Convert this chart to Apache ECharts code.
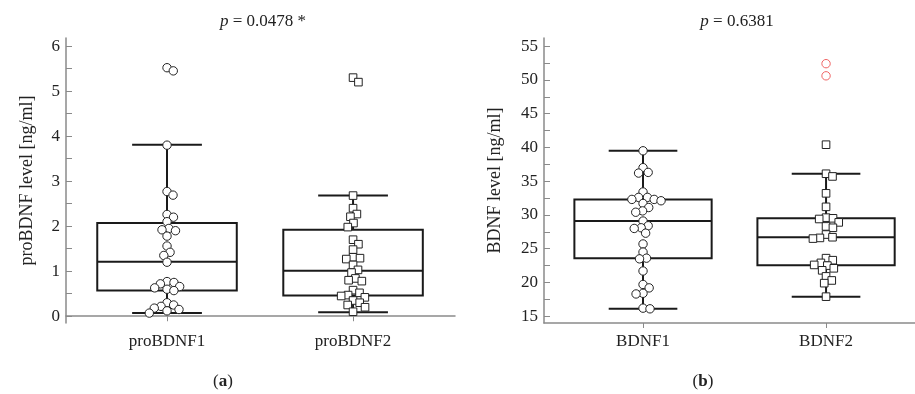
<!DOCTYPE html>
<html>
<head>
<meta charset="utf-8">
<script src="https://cdn.jsdelivr.net/npm/echarts@6/dist/echarts.min.js"></script>
<style>html,body{margin:0;padding:0;background:#fff}#c{width:915px;height:394px}</style>
</head>
<body>
<div id="c"></div>
<script>
// ---------- data ----------
const proCats = ['proBDNF1', 'proBDNF2'];
const bdnfCats = ['BDNF1', 'BDNF2'];
// box stats: [low whisker, Q1, median, Q3, high whisker]
const proBox1 = [0.07, 0.57, 1.21, 2.07, 3.81];
const proBox2 = [0.09, 0.46, 1.01, 1.92, 2.68];
const bdnfBox1 = [16.1, 23.6, 29.1, 32.3, 39.5];
const bdnfBox2 = [17.9, 22.55, 26.7, 29.5, 36.1];
// individual measurements
const proBDNF1 = [5.52, 5.45, 3.80, 2.77, 2.69, 2.26, 2.20, 2.10, 1.95, 1.92, 1.90, 1.78,
  1.56, 1.42, 1.35, 1.20, 0.77, 0.75, 0.72, 0.66, 0.63, 0.60, 0.57,
  0.30, 0.25, 0.22, 0.18, 0.15, 0.12, 0.07];
const proBDNF2 = [5.30, 5.20, 2.68, 2.40, 2.27, 2.21, 2.07, 1.98, 1.70, 1.60, 1.48,
  1.31, 1.29, 1.27, 1.14, 1.03, 0.97, 0.84, 0.80, 0.78,
  0.58, 0.52, 0.47, 0.45, 0.42, 0.35, 0.30, 0.25, 0.20, 0.10];
const BDNF1 = [39.5, 37.0, 36.3, 36.2, 33.4, 32.6, 32.6, 32.3, 32.3, 32.1, 31.7, 31.1,
  30.6, 30.4, 29.1, 28.4, 28.1, 28.0, 27.3, 25.7, 24.5, 23.6, 23.5,
  21.7, 19.7, 19.2, 18.4, 18.3, 16.2, 16.1];
const BDNF2 = [40.4, 36.1, 35.7, 33.2, 31.2, 29.6, 29.5, 29.4, 28.9, 28.3, 28.1, 27.1,
  26.7, 26.6, 26.5, 23.6, 23.3, 22.9, 22.6, 22.5, 22.1, 21.8, 20.9, 20.3, 19.9, 17.9];
const BDNF2far = [52.4, 50.6];
const catPos = [1, 2];
const proTicks = [0, 1, 2, 3, 4, 5, 6];
const proMinor = [0.5, 1.5, 2.5, 3.5, 4.5, 5.5];
const bdnfTicks = [15, 20, 25, 30, 35, 40, 45, 50, 55];
const bdnfMinor = [17.5, 22.5, 27.5, 32.5, 37.5, 42.5, 47.5, 52.5];
const titles = ['= 0.0478 *', '= 0.6381'];
const panelLabels = ['a', 'b'];

// ---------- chart ----------
const FONT = '"Liberation Serif", "DejaVu Serif", serif';
const AX = '#8a8a8a';
const TXT = '#222';
const chart = echarts.init(document.getElementById('c'));

function renderBox(params, api) {
  const x = api.value(0);
  const lo = api.coord([x, api.value(1)]);
  const q1 = api.coord([x, api.value(2)]);
  const md = api.coord([x, api.value(3)]);
  const q3 = api.coord([x, api.value(4)]);
  const hi = api.coord([x, api.value(5)]);
  const unit = api.size([1, 0])[0];
  const bw = unit * 0.75, cw = bw / 2, cx = lo[0];
  const st = { stroke: '#1a1a1a', lineWidth: 2, fill: null };
  return { type: 'group', children: [
    { type: 'line', shape: { x1: cx, y1: q3[1], x2: cx, y2: hi[1] }, style: st },
    { type: 'line', shape: { x1: cx, y1: q1[1], x2: cx, y2: lo[1] }, style: st },
    { type: 'line', shape: { x1: cx - cw / 2, y1: hi[1], x2: cx + cw / 2, y2: hi[1] }, style: st },
    { type: 'line', shape: { x1: cx - cw / 2, y1: lo[1], x2: cx + cw / 2, y2: lo[1] }, style: st },
    { type: 'rect', shape: { x: cx - bw / 2, y: q3[1], width: bw, height: q1[1] - q3[1] }, style: { stroke: '#1a1a1a', lineWidth: 2, fill: '#fff' } },
    { type: 'line', shape: { x1: cx - bw / 2, y1: md[1], x2: cx + bw / 2, y2: md[1] }, style: st }
  ] };
}

function swarm(ys, D) {
  const order = ys.map((y, i) => i).sort((a, b) => ys[a] - ys[b]);
  const xs = new Array(ys.length);
  const placed = [];
  for (const i of order) {
    const y = ys[i];
    const near = placed.filter(j => Math.abs(ys[j] - y) < D);
    const cands = [0];
    near.forEach(j => {
      const dx = Math.sqrt(D * D - (ys[j] - y) * (ys[j] - y));
      cands.push(xs[j] + dx, xs[j] - dx);
    });
    cands.sort((a, b) => (Math.abs(a) - Math.abs(b)) || (b - a));
    for (const c of cands) {
      if (near.every(j => (xs[j] - c) * (xs[j] - c) + (ys[j] - y) * (ys[j] - y) >= D * D - 0.01)) { xs[i] = c; break; }
    }
    placed.push(i);
  }
  return xs;
}

function makePoints(values, shape, color) {
  let cache = null;
  return function (params, api) {
    if (params.dataIndex === 0 || !cache) {
      const cat = api.value(0);
      const ys = values.map(v => api.coord([cat, v])[1]);
      cache = { xs: swarm(ys, 7.0) };
    }
    const p = api.coord([api.value(0), api.value(1)]);
    const x = p[0] + cache.xs[params.dataIndex];
    const y = p[1];
    const style = { stroke: color, lineWidth: 1, fill: '#fff' };
    if (shape === 'circle') return { type: 'circle', shape: { cx: x, cy: y, r: 4.2 }, style: style };
    return { type: 'rect', shape: { x: x - 3.8, y: y - 3.8, width: 7.6, height: 7.6 }, style: style };
  };
}

function pts(values, pos) { return values.map(v => [pos, v]); }

function xAxisCfg(cats, gi, min, max) {
  return {
    type: 'value', gridIndex: gi, min: min, max: max,
    axisLine: { show: true, lineStyle: { color: AX, width: 1.5 } },
    axisTick: { show: true, length: 5, customValues: catPos, lineStyle: { color: AX } },
    axisLabel: { color: TXT, fontFamily: FONT, fontSize: 17, margin: 10, customValues: catPos,
      formatter: v => cats[catPos.indexOf(v)] },
    splitLine: { show: false }
  };
}
function yAxisCfg(gi, min, max, ticks, minor, name, gap) {
  return {
    type: 'value', gridIndex: gi, min: min, max: max,
    name: name, nameLocation: 'middle', nameGap: gap,
    nameTextStyle: { color: TXT, fontFamily: FONT, fontSize: 18 },
    axisLine: { show: true, lineStyle: { color: AX, width: 1.5 } },
    axisTick: { show: true, inside: true, length: 6, customValues: ticks.concat(minor), lineStyle: { color: AX } },
    axisLabel: { color: TXT, fontFamily: FONT, fontSize: 17, margin: 6, customValues: ticks },
    splitLine: { show: false }
  };
}

function txt(x, y, text, rich) {
  return { type: 'text', x: x, y: y, style: { text: text, rich: rich, fontFamily: FONT, fontSize: 17, fill: TXT, align: 'center', verticalAlign: 'middle' } };
}
const richI = { i: { fontStyle: 'italic', fontFamily: FONT, fontSize: 17, fill: TXT } };
const richB = { b: { fontWeight: 'bold', fontFamily: FONT, fontSize: 17, fill: TXT } };

const option = {
  backgroundColor: '#fff',
  animation: false,
  grid: [
    { left: 66, top: 38, width: 389, height: 285 },
    { left: 544, top: 38, width: 371, height: 285 }
  ],
  xAxis: [xAxisCfg(proCats, 0, 0.457, 2.548), xAxisCfg(bdnfCats, 1, 0.459, 2.486)],
  yAxis: [
    yAxisCfg(0, -0.15, 6.18, proTicks, proMinor, 'proBDNF level [ng/ml]', 30),
    yAxisCfg(1, 14.0, 56.2, bdnfTicks, bdnfMinor, 'BDNF level [ng/ml]', 40)
  ],
  graphic: [
    txt(263, 22, '{i|p} ' + titles[0], richI),
    txt(737, 22, '{i|p} ' + titles[1], richI),
    txt(223, 382, '({b|' + panelLabels[0] + '})', richB),
    txt(703, 382, '({b|' + panelLabels[1] + '})', richB)
  ],
  series: [
    { type: 'custom', xAxisIndex: 0, yAxisIndex: 0, renderItem: renderBox, data: [[catPos[0]].concat(proBox1), [catPos[1]].concat(proBox2)], z: 2 },
    { type: 'custom', xAxisIndex: 1, yAxisIndex: 1, renderItem: renderBox, data: [[catPos[0]].concat(bdnfBox1), [catPos[1]].concat(bdnfBox2)], z: 2 },
    { type: 'custom', xAxisIndex: 0, yAxisIndex: 0, renderItem: makePoints(proBDNF1, 'circle', '#222'), data: pts(proBDNF1, catPos[0]), z: 5 },
    { type: 'custom', xAxisIndex: 0, yAxisIndex: 0, renderItem: makePoints(proBDNF2, 'square', '#222'), data: pts(proBDNF2, catPos[1]), z: 5 },
    { type: 'custom', xAxisIndex: 1, yAxisIndex: 1, renderItem: makePoints(BDNF1, 'circle', '#222'), data: pts(BDNF1, catPos[0]), z: 5 },
    { type: 'custom', xAxisIndex: 1, yAxisIndex: 1, renderItem: makePoints(BDNF2, 'square', '#222'), data: pts(BDNF2, catPos[1]), z: 5 },
    { type: 'custom', xAxisIndex: 1, yAxisIndex: 1, renderItem: makePoints(BDNF2far, 'circle', '#f06565'), data: pts(BDNF2far, catPos[1]), z: 5 }
  ]
};
chart.setOption(option);
</script>
</body>
</html>
